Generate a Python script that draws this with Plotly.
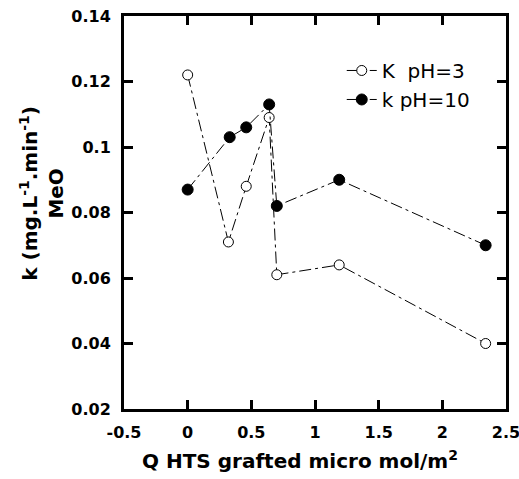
import plotly.graph_objects as go

# K pH=3 (open circles)
x_ph3 = [0, 0.32, 0.46, 0.64, 0.70, 1.19, 2.34]
k_ph3 = [0.122, 0.071, 0.088, 0.109, 0.061, 0.064, 0.040]

# k pH=10 (filled circles)
x_ph10 = [0, 0.33, 0.46, 0.64, 0.70, 1.19, 2.34]
k_ph10 = [0.087, 0.103, 0.106, 0.113, 0.082, 0.090, 0.070]

x_ticks = [-0.5, 0, 0.5, 1, 1.5, 2, 2.5]
y_ticks = [0.02, 0.04, 0.06, 0.08, 0.1, 0.12, 0.14]

FONT = "DejaVu Sans, Verdana, sans-serif"
DASH = "12px,4px,3px,4px"

fig = go.Figure()

fig.add_trace(go.Scatter(
    x=x_ph3, y=k_ph3,
    mode='lines+markers',
    name='K  pH=3',
    line=dict(color='black', width=1, dash=DASH),
    marker=dict(symbol='circle', size=10, color='white',
                line=dict(color='black', width=1)),
))

fig.add_trace(go.Scatter(
    x=x_ph10, y=k_ph10,
    mode='lines+markers',
    name='k pH=10',
    line=dict(color='black', width=1, dash=DASH),
    marker=dict(symbol='circle', size=11, color='black',
                line=dict(color='black', width=1)),
))

axis_common = dict(
    showline=True, linecolor='black', linewidth=3, mirror='ticks',
    ticks='inside', ticklen=9, tickwidth=3, tickcolor='black',
    showgrid=False, zeroline=False, automargin=False,
    ticklabeloverflow='allow', ticklabelstandoff=7,
    tickfont=dict(family=FONT, size=16, color='black', weight='bold'),
)

fig.update_xaxes(range=[-0.5, 2.5], tickvals=x_ticks,
                 ticktext=[f"{v:g}" for v in x_ticks], **axis_common)
fig.update_yaxes(range=[0.02, 0.14], tickvals=y_ticks,
                 ticktext=[f"{v:g}" for v in y_ticks], **axis_common)

fig.add_annotation(
    text="<b>Q HTS grafted micro mol/m<sup>2</sup></b>",
    xref='paper', yref='paper', x=0.461, y=-0.13,
    xanchor='center', yanchor='middle', showarrow=False,
    font=dict(family=FONT, size=20, color='black'),
)
fig.add_annotation(
    text="<b>k (mg.L<sup>-1</sup>.min<sup>-1</sup>)<br>MeO</b>",
    xref='paper', yref='paper', x=-0.215, y=0.55,
    xanchor='center', yanchor='middle', textangle=-90, showarrow=False,
    font=dict(family=FONT, size=20, color='black'),
)

fig.update_layout(
    width=519, height=479,
    margin=dict(l=124, r=13, t=16, b=70),
    paper_bgcolor='white', plot_bgcolor='white',
    showlegend=True,
    legend=dict(x=0.57, y=0.911, xanchor='left', yanchor='top',
                bgcolor='rgba(0,0,0,0)',
                font=dict(family=FONT, size=20, color='black'),
                tracegroupgap=0, itemwidth=30),
)

fig.write_html("out.html", config={'displayModeBar': False},
               post_script="document.body.style.margin='0';")
